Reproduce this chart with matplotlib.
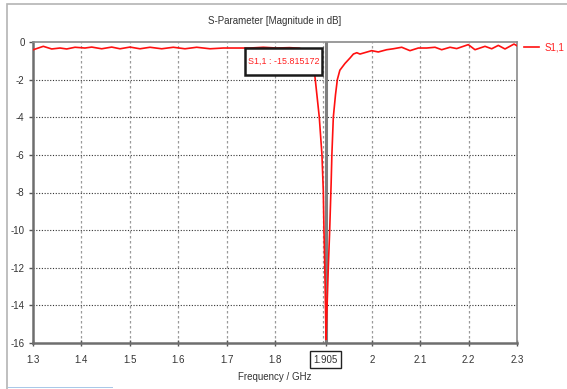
import matplotlib
matplotlib.use("Agg")
import matplotlib.pyplot as plt
from matplotlib.patches import Rectangle

plt.rcParams['axes.unicode_minus'] = False
plt.rcParams['font.family'] = ['Liberation Sans', 'DejaVu Sans']

# ---- data ----
freq_left = [1.3006, 1.3213, 1.3386, 1.3558, 1.3696, 1.3868, 1.4074, 1.4213, 1.4419,
             1.4626, 1.4798, 1.5004, 1.5211, 1.5417, 1.5659, 1.5899, 1.6140, 1.6382,
             1.6657, 1.6932, 1.7209, 1.7483, 1.7758, 1.8035, 1.8300, 1.8500]
s11_left = [-0.41, -0.23, -0.37, -0.32, -0.37, -0.28, -0.32, -0.27, -0.36,
            -0.27, -0.36, -0.27, -0.36, -0.28, -0.36, -0.28, -0.36, -0.28,
            -0.36, -0.32, -0.32, -0.32, -0.28, -0.32, -0.30, -0.33]

freq_dip = [1.8650, 1.8750, 1.8826, 1.8915, 1.8970, 1.8998, 1.9012, 1.9029, 1.9043,
            1.9054, 1.9076, 1.9101, 1.9130, 1.9160, 1.9175, 1.9205, 1.9250, 1.9288,
            1.9340, 1.9446, 1.9550, 1.9620, 1.9690, 1.9756]
s11_dip = [-0.45, -0.90, -1.85, -4.0, -6.0, -7.9, -10.0, -12.0, -14.0,
           -15.815172, -14.0, -12.0, -10.0, -7.5, -6.0, -4.0, -2.8, -2.0,
           -1.5, -1.14, -0.85, -0.64, -0.57, -0.64]

freq_right = [1.9998, 2.0134, 2.0308, 2.0444, 2.0618, 2.0789, 2.0961, 2.1134, 2.1306,
              2.1444, 2.1616, 2.1754, 2.1994, 2.2132, 2.2339, 2.2477, 2.2614, 2.2752,
              2.2938, 2.3000]
s11_right = [-0.46, -0.53, -0.41, -0.36, -0.28, -0.46, -0.32, -0.32, -0.28,
             -0.41, -0.28, -0.35, -0.14, -0.41, -0.23, -0.36, -0.18, -0.37,
             -0.11, -0.20]

marker_freq = 1.905
marker_value = -15.815172
series_label = "S1,1"
title = "S-Parameter [Magnitude in dB]"
xlabel = "Frequency / GHz"
xticks = [1.3, 1.4, 1.5, 1.6, 1.7, 1.8, 1.905, 2.0, 2.1, 2.2, 2.3]
xtick_labels = ["1.3", "1.4", "1.5", "1.6", "1.7", "1.8", "1.905", "2", "2.1", "2.2", "2.3"]
yticks = [0, -2, -4, -6, -8, -10, -12, -14, -16]

freq = freq_left + freq_dip + freq_right
s11 = s11_left + s11_dip + s11_right

FS = 7
TXT = '#333333'

# ---- figure ----
W, H = 567, 389
fig = plt.figure(figsize=(W / 100, H / 100), dpi=100)
fig.patch.set_facecolor('white')

# outer window frame
fig.add_artist(Rectangle((7 / W, -0.05), 1.2, 1 - 4 / H + 0.05, transform=fig.transFigure,
                         fill=False, edgecolor='#b4b4b4', lw=1.2))
fig.add_artist(Rectangle((8 / W, 1 / H), 105 / W, 1.5 / H, transform=fig.transFigure,
                         fill=True, facecolor='#a9c8e8', edgecolor='none'))

ax = fig.add_axes([33 / W, 46 / H, 484 / W, 301 / H])
ax.set_xlim(1.3, 2.3)
ax.set_ylim(-16, 0)

# grid
for x in [1.4, 1.5, 1.6, 1.7, 1.8, 1.9, 2.0, 2.1, 2.2]:
    ax.axvline(x, color='#9a9a9a', lw=0.9, dashes=(2, 2), zorder=1)
for y in [-2, -4, -6, -8, -10, -12, -14]:
    ax.axhline(y, color='#333333', lw=0.8, dashes=(1, 1.5), zorder=1)

# marker line
ax.axvline(marker_freq, color='#7f7f7f', lw=2.2, zorder=2)

ax.plot(freq, s11, color='#ff1010', lw=1.2, label=series_label, zorder=3)

# marker annotation box (box drawn in axes-fraction coords)
bx0, bx1 = (245 - 33) / 484, (322 - 33) / 484
by1, by0 = 1 - (48 - 42) / 301, 1 - (75 - 42) / 301
ax.add_patch(Rectangle((bx0, by0), bx1 - bx0, by1 - by0, transform=ax.transAxes,
                       fc='white', ec='#1a1a1a', lw=1.8, zorder=5))
ax.text((bx0 + bx1) / 2, (by0 + by1) / 2, f"{series_label} : {marker_value:.6f}",
        transform=ax.transAxes, color='#ff2020', fontsize=6.4,
        ha='center', va='center', zorder=6)

# spines
for side in ['top', 'right']:
    ax.spines[side].set_color('#8a8a8a')
    ax.spines[side].set_linewidth(1.2)
for side in ['left', 'bottom']:
    ax.spines[side].set_color('#6e6e6e')
    ax.spines[side].set_linewidth(1.8)

ax.set_xticks(xticks)
ax.set_xticklabels(xtick_labels)
ax.set_yticks(yticks)
ax.set_yticklabels([str(v) for v in yticks])
ax.tick_params(axis='x', direction='inout', length=5, width=1, color='#555555',
               labelsize=FS, pad=6, labelcolor=TXT)
ax.tick_params(axis='y', direction='out', length=3, width=1, color='#555555',
               labelsize=FS, pad=3, labelcolor=TXT)

for lbl in ax.get_xticklabels():
    if lbl.get_text() == "1.905":
        lbl.set_bbox(dict(boxstyle='square,pad=0.35', fc='white', ec='#222222', lw=1.0))

ax.set_title(title, fontsize=FS, color=TXT, pad=13)
ax.set_xlabel(xlabel, fontsize=FS, color=TXT, labelpad=5)

leg = ax.legend(loc='center left', bbox_to_anchor=(1.014, 0.982), frameon=False,
                fontsize=FS, handlelength=1.6, handletextpad=0.5, borderpad=0,
                borderaxespad=0)
for t in leg.get_texts():
    t.set_color('#ff2020')

fig.savefig("out.png", dpi=100)
